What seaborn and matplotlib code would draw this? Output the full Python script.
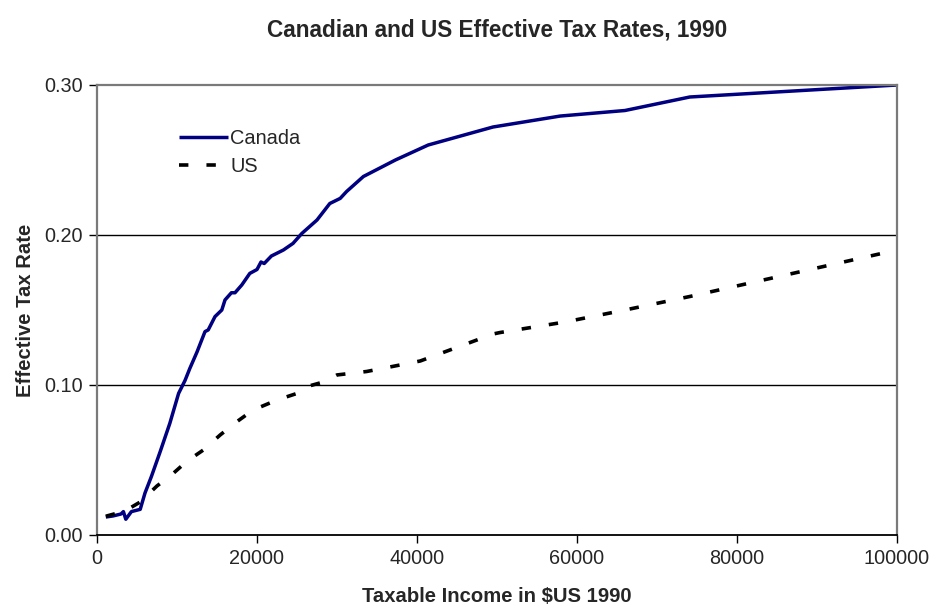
import matplotlib
matplotlib.use("Agg")
import matplotlib.pyplot as plt
import seaborn as sns
import pandas as pd
from matplotlib.ticker import FormatStrFormatter, FixedLocator

canada_income = [1100, 2000, 3000, 3300, 3600, 4300, 5400, 6000, 6800, 7900, 9100, 10200,
                 11000, 11600, 12500, 13500, 13900, 14750, 15600, 16000, 16800, 17250,
                 18100, 19100, 20000, 20500, 20900, 21800, 23300, 24500, 25600, 27500,
                 29100, 30400, 31200, 33300, 37300, 41400, 49500, 57900, 66000, 74100, 100000]
canada_rate = [0.012, 0.0127, 0.014, 0.0156, 0.0105, 0.0156, 0.0171, 0.028, 0.039, 0.0556,
               0.0744, 0.0944, 0.103, 0.111, 0.122, 0.1356, 0.1367, 0.1456, 0.150, 0.1567,
               0.1615, 0.1615, 0.1667, 0.1744, 0.177, 0.182, 0.181, 0.186, 0.190, 0.1944,
               0.201, 0.210, 0.221, 0.2244, 0.229, 0.239, 0.250, 0.260, 0.272, 0.2793,
               0.283, 0.292, 0.300]

us_income = [1100, 3500, 5400, 7500, 9300, 11200, 13300, 15400, 17500, 19500, 22500, 25000,
             25600, 28300, 30000, 33700, 36600, 40400, 49500, 50400, 58500, 66000, 74100, 100000]
us_rate = [0.0125, 0.016, 0.022, 0.0327, 0.040, 0.049, 0.0567, 0.0667, 0.0756, 0.0833,
           0.090, 0.0944, 0.098, 0.102, 0.1067, 0.109, 0.112, 0.116, 0.134, 0.135, 0.142,
           0.150, 0.159, 0.190]

x_ticks = [0, 20000, 40000, 60000, 80000, 100000]
y_ticks = [0.00, 0.10, 0.20, 0.30]

title = "Canadian and US Effective Tax Rates, 1990"
x_label = "Taxable Income in $US 1990"
y_label = "Effective Tax Rate"

sns.set_style("white")
plt.rcParams['font.family'] = ['Liberation Sans', 'DejaVu Sans']

fig = plt.figure(figsize=(9.37, 6.12), dpi=100)
ax = fig.add_axes([97/937, 77/612, 800/937, 450/612])

df_ca = pd.DataFrame({"income": canada_income, "rate": canada_rate})
df_us = pd.DataFrame({"income": us_income, "rate": us_rate})

sns.lineplot(data=df_ca, x="income", y="rate", ax=ax, color="#000080", lw=2.5,
             label="Canada", solid_capstyle="butt")
sns.lineplot(data=df_us, x="income", y="rate", ax=ax, color="black", lw=2.6,
             label="US", dashes=False, linestyle=(0, (2.6, 5.0)), dash_capstyle="butt")

ax.set_xlim(0, 100000)
ax.set_ylim(0, 0.30)
ax.xaxis.set_major_locator(FixedLocator(x_ticks))
ax.yaxis.set_major_locator(FixedLocator(y_ticks))
ax.yaxis.set_major_formatter(FormatStrFormatter("%.2f"))

for yv in y_ticks[1:3]:
    ax.axhline(yv, color="black", lw=1.0, zorder=0)

ax.spines["bottom"].set_color("black")
ax.spines["bottom"].set_linewidth(1.3)
for side in ["left", "top", "right"]:
    ax.spines[side].set_color("#7a7a7a")
    ax.spines[side].set_linewidth(1.6)

ax.tick_params(axis="both", which="major", direction="out", length=6, width=1,
               color="black", labelsize=14.3, pad=4, bottom=True, left=True)

ax.set_xlabel(x_label, fontsize=14.6, fontweight="bold", labelpad=14)
ax.set_ylabel(y_label, fontsize=14.6, fontweight="bold", labelpad=7)
ax.set_title(title, fontsize=16.3, fontweight="bold", pad=35)

leg = ax.legend(loc="upper left", bbox_to_anchor=(0.08, 0.942), frameon=False,
                fontsize=14.4, handlelength=2.45, handletextpad=0.12, labelspacing=0.42)

fig.savefig("out.png", dpi=100)
